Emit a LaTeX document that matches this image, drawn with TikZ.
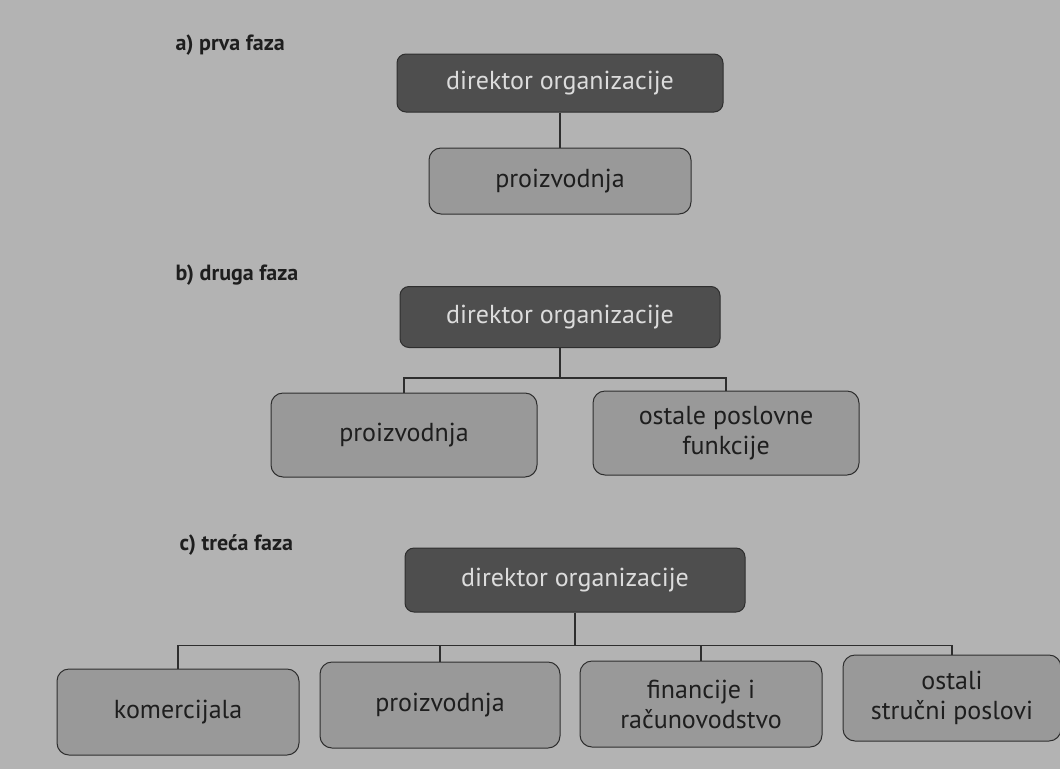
\documentclass[tikz,border=0pt]{standalone}
\usepackage{fontspec}
\setmainfont{PT Sans}
\usetikzlibrary{positioning}

\definecolor{pagegray}{HTML}{B3B3B3}
\definecolor{headgray}{HTML}{4E4E4E}
\definecolor{unitgray}{HTML}{999999}
\definecolor{linegray}{HTML}{2E2E2E}
\definecolor{headtext}{HTML}{DCDCDC}
\definecolor{unittext}{HTML}{1E1E1E}

\begin{document}
\begin{tikzpicture}[x=1pt,y=-1pt,
  head/.style={draw=linegray,fill=headgray,text=headtext,line width=1pt,
    rounded corners=9pt,minimum height=58pt,
    font=\fontsize{26}{30}\selectfont},
  unit/.style={draw=linegray,fill=unitgray,text=unittext,line width=1pt,
    rounded corners=12pt,minimum height=86pt,minimum width=242pt,align=center,
    font=\fontsize{26}{30}\selectfont},
  phase/.style={anchor=west,text=unittext,font=\fontsize{22}{26}\selectfont\bfseries},
  link/.style={draw=linegray,line width=1.5pt}]
  \fill[pagegray] (0,0) rectangle (1060,769);
  \useasboundingbox (0,0) rectangle (1060,769);

  % a) prva faza
  \path
  node[phase] (pa) at (172,45) {a) prva faza}
  node[head,minimum width=326pt] (dir1) at (560,83) {direktor organizacije}
  node[unit,minimum width=262pt,minimum height=66pt] (pro1) at (560,181) {proizvodnja}
  ;
  \path[link] (dir1) -- (pro1);

  % b) druga faza
  \path
  node[phase] (pb) at (172,275) {b) druga faza}
  node[head,minimum width=320pt,minimum height=61pt] (dir2) at (560,317) {direktor organizacije}
  node[unit,minimum width=266pt,minimum height=84pt] (pro2) at (404,435) {proizvodnja}
  node[unit,minimum width=266pt,minimum height=84pt] (ost2) at (726,433) {ostale poslovne\\funkcije}
  ;
  \path[link] (dir2.south) -- ++(0,30) coordinate (busb)
  (busb) -| (pro2.north)
  (busb) -| (ost2.north);

  % c) treća faza
  \path
  node[phase] (pc) at (176,545) {c) treća faza}
  node[head,minimum width=340pt,minimum height=64pt] (dir3) at (575,580) {direktor organizacije}
  node[unit] (kom) at (178,712) {komercijala}
  node[unit,minimum width=240pt] (pro3) at (440,705) {proizvodnja}
  node[unit] (fin) at (701,704) {financije i\\računovodstvo}
  node[unit,minimum width=218pt] (ost3) at (952,698) {ostali\\stručni poslovi}
  ;
  \path[link] (dir3.south) -- ++(0,33) coordinate (busc)
  (busc) -| (kom.north)
  (busc) -| (pro3.north)
  (busc) -| (fin.north)
  (busc) -| (ost3.north);
\end{tikzpicture}
\end{document}
